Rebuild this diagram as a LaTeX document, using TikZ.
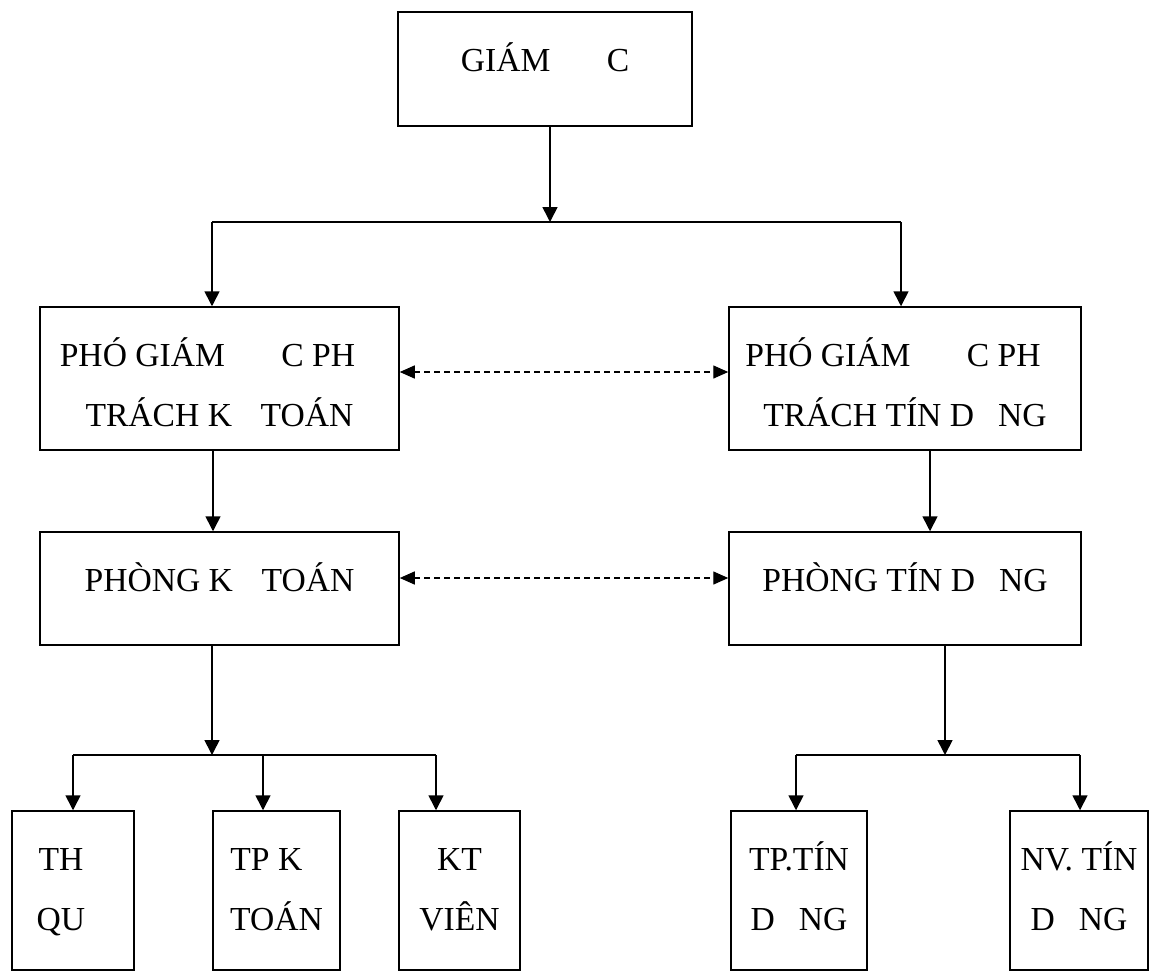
\documentclass[tikz,border=0pt]{standalone}
\usepackage{fontspec}
\setmainfont{Liberation Serif}
\usetikzlibrary{arrows.meta}

% Box contents: fixed-size paragraph, first baseline 59.5pt below the top edge,
% following lines 60pt apart
\newcommand{\boxtext}[3]{\parbox[c][#2][t]{#1}{\fontsize{33.6}{60}\selectfont
  \centering\rule{0pt}{59.5pt}#3}}
% blank advance that survives line ends
\newcommand{\gap}[1]{\hspace*{#1}\mbox{}}

\tikzset{
  orgbox/.style={draw, line width=1.5pt, inner sep=0pt},
  link/.style={line width=1.6pt},
  arr/.style={link, -{Triangle[length=15pt,width=15pt]}},
  darr/.style={line width=1.4pt, dash pattern=on 6pt off 4pt,
    {Triangle[length=15pt,width=13pt]}-{Triangle[length=15pt,width=13pt]}}
}

\begin{document}
\begin{tikzpicture}[x=1pt, y=-1pt]
\useasboundingbox (0,0) rectangle (1150,972);

% boxes
\node[orgbox] (gd)   at (545,69)    {\boxtext{294pt}{114pt}{GIÁM \gap{48pt}C}};
\node[orgbox] (pgd1) at (219.5,378.5) {\boxtext{359pt}{143pt}{PHÓ GIÁM \gap{48pt}C PH\gap{24pt}\\TRÁCH K\gap{20.3pt} TOÁN}};
\node[orgbox] (pgd2) at (905,378.5) {\boxtext{352pt}{143pt}{PHÓ GIÁM \gap{48pt}C PH\gap{24pt}\\TRÁCH TÍN D\gap{24pt}NG}};
\node[orgbox] (pkt)  at (219.5,588.5) {\boxtext{359pt}{113pt}{PHÒNG K\gap{20.3pt} TOÁN}};
\node[orgbox] (ptd)  at (905,588.5) {\boxtext{352pt}{113pt}{PHÒNG TÍN D\gap{24pt}NG}};
\node[orgbox] (tq)   at (73,890.5)  {\boxtext{122pt}{159pt}{TH\gap{24pt}\\QU\gap{24pt}}};
\node[orgbox] (tpkt) at (276.5,890.5) {\boxtext{127pt}{159pt}{TP K\gap{20.3pt}\\TOÁN}};
\node[orgbox] (ktv)  at (459.5,890.5) {\boxtext{121pt}{159pt}{KT\\VIÊN}};
\node[orgbox] (tptd) at (799,890.5) {\boxtext{136pt}{159pt}{TP.TÍN\\D\gap{24pt}NG}};
\node[orgbox] (nvtd) at (1079,890.5) {\boxtext{138pt}{159pt}{NV. TÍN\\D\gap{24pt}NG}};

% junction points of the tree connectors
\coordinate (j0)  at (550,222);
\coordinate (j0L) at (212,222);
\coordinate (j0R) at (901,222);
\coordinate (s1)  at (213,0);
\coordinate (s2)  at (930,0);
\coordinate (j1)  at (212,755);
\coordinate (j1L) at (73,755);
\coordinate (j1M) at (263,755);
\coordinate (j1R) at (436,755);
\coordinate (j2)  at (945,755);
\coordinate (j2L) at (796,755);
\coordinate (j2R) at (1080,755);

% director to deputies
\draw[arr] (gd.south -| j0) -- (j0);
\draw[link] (j0L) -- (j0R);
\draw[arr] (j0L) -- (j0L |- pgd1.north);
\draw[arr] (j0R) -- (j0R |- pgd2.north);

% deputies to departments
\draw[arr] (s1 |- pgd1.south) -- (s1 |- pkt.north);
\draw[arr] (s2 |- pgd2.south) -- (s2 |- ptd.north);

% accounting department staff
\draw[arr] (j1 |- pkt.south) -- (j1);
\draw[link] (j1L) -- (j1R);
\draw[arr] (j1L) -- (j1L |- tq.north);
\draw[arr] (j1M) -- (j1M |- tpkt.north);
\draw[arr] (j1R) -- (j1R |- ktv.north);

% credit department staff
\draw[arr] (j2 |- ptd.south) -- (j2);
\draw[link] (j2L) -- (j2R);
\draw[arr] (j2L) -- (j2L |- tptd.north);
\draw[arr] (j2R) -- (j2R |- nvtd.north);

% coordination links
\draw[darr] (pgd1.east |- 0,372) -- (pgd2.west |- 0,372);
\draw[darr] (pkt.east |- 0,578) -- (ptd.west |- 0,578);
\end{tikzpicture}
\end{document}
